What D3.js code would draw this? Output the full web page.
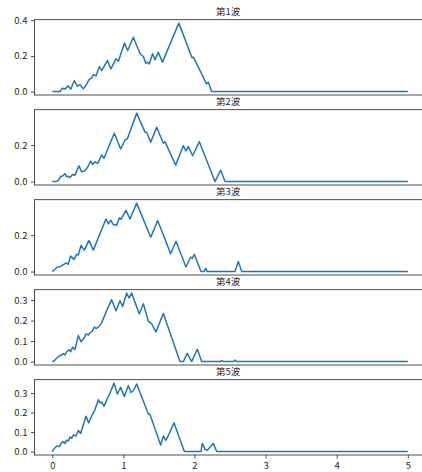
<!DOCTYPE html>
<html>
<head>
<meta charset="utf-8">
<script src="https://cdn.jsdelivr.net/npm/d3@7"></script>
<style>
body{margin:0;background:#fff;}
text{font-family:"Noto Sans CJK JP","Liberation Sans",sans-serif;fill:#262626;}
</style>
</head>
<body>
<svg id="chart"></svg>
<script>
var titles = ["第1波","第2波","第3波","第4波","第5波"];
var xTicks = [0,1,2,3,4,5];
var yTicks1 = [0,0.2,0.4];
var yTicks2 = [0,0.2];
var yTicks3 = [0,0.2];
var yTicks4 = [0,0.1,0.2,0.3];
var yTicks5 = [0,0.1,0.2,0.3];

var wave1 = [[0,0],[0.11,0],[0.14,0.019],[0.18,0.015],[0.225,0.032],[0.26,0.013],[0.31,0.062],[0.35,0.03],
  [0.39,0.039],[0.435,0.015],[0.475,0.036],[0.52,0.069],[0.555,0.077],[0.58,0.096],[0.615,0.088],[0.66,0.14],
  [0.695,0.118],[0.775,0.174],[0.825,0.127],[0.895,0.184],[0.93,0.17],[1.015,0.272],[1.06,0.23],[1.14,0.305],
  [1.235,0.212],[1.28,0.197],[1.315,0.159],[1.34,0.165],[1.365,0.155],[1.41,0.212],[1.445,0.178],[1.49,0.221],
  [1.55,0.165],[1.78,0.384],[1.965,0.19],[1.985,0.193],[2.17,0.043],[2.195,0.052],[2.24,0],[5,0]];
var wave2 = [[0,0],[0.052,0],[0.085,0.007],[0.122,0.029],[0.146,0.031],[0.179,0.044],[0.202,0.026],[0.225,0.029],
  [0.249,0.022],[0.286,0.039],[0.319,0.035],[0.376,0.086],[0.413,0.053],[0.45,0.057],[0.493,0.075],[0.54,0.112],
  [0.568,0.094],[0.601,0.108],[0.638,0.099],[0.694,0.145],[0.727,0.127],[0.872,0.264],[0.962,0.178],[1.022,0.227],
  [1.055,0.233],[1.187,0.374],[1.304,0.27],[1.327,0.27],[1.384,0.215],[1.468,0.297],[1.562,0.209],[1.585,0.218],
  [1.735,0.09],[1.843,0.196],[1.88,0.167],[1.913,0.191],[1.974,0.141],[2.068,0.218],[2.288,0],[2.368,0.062],
  [2.429,0],[5,0]];
var wave3 = [[0,0],[0.038,0.013],[0.071,0.025],[0.108,0.027],[0.146,0.036],[0.179,0.044],[0.202,0.047],[0.225,0.04],
  [0.258,0.085],[0.305,0.067],[0.343,0.095],[0.366,0.091],[0.404,0.144],[0.45,0.118],[0.516,0.171],[0.577,0.118],
  [0.755,0.289],[0.788,0.262],[0.821,0.282],[0.858,0.258],[0.905,0.255],[0.943,0.295],[0.966,0.287],[1.037,0.336],
  [1.093,0.289],[1.187,0.376],[1.384,0.189],[1.482,0.28],[1.665,0.098],[1.74,0.167],[1.88,0.025],[1.946,0.08],
  [1.97,0.073],[1.998,0.095],[2.091,0],[2.134,0],[2.157,0.018],[2.18,0],[2.57,0],[2.616,0.055],[2.664,0],[5,0]];
var wave4 = [[0,0],[0.024,0.003],[0.061,0.016],[0.099,0.027],[0.132,0.032],[0.155,0.039],[0.179,0.032],[0.202,0.048],
  [0.235,0.058],[0.258,0.048],[0.286,0.071],[0.319,0.058],[0.366,0.127],[0.404,0.097],[0.45,0.116],[0.474,0.135],
  [0.507,0.129],[0.53,0.14],[0.563,0.148],[0.591,0.169],[0.615,0.161],[0.647,0.168],[0.694,0.189],[0.774,0.256],
  [0.835,0.302],[0.896,0.248],[0.952,0.297],[0.99,0.269],[1.046,0.334],[1.079,0.31],[1.116,0.334],[1.224,0.232],
  [1.281,0.282],[1.351,0.197],[1.398,0.184],[1.458,0.145],[1.562,0.235],[1.796,0],[1.843,0],[1.899,0.04],
  [1.96,0],[2.04,0.06],[2.101,0],[2.36,0],[2.383,0.005],[2.41,0],[2.55,0],[2.57,0.007],[2.59,0],[5,0]];
var wave5 = [[0,0],[0.038,0.02],[0.071,0.029],[0.099,0.025],[0.122,0.042],[0.155,0.051],[0.179,0.042],[0.202,0.059],
  [0.225,0.054],[0.249,0.075],[0.272,0.068],[0.296,0.085],[0.333,0.08],[0.366,0.108],[0.399,0.093],[0.474,0.181],
  [0.512,0.147],[0.568,0.193],[0.601,0.215],[0.647,0.266],[0.671,0.249],[0.694,0.254],[0.727,0.232],[0.788,0.283],
  [0.812,0.3],[0.868,0.351],[0.915,0.295],[0.962,0.33],[1.013,0.283],[1.069,0.339],[1.107,0.303],[1.14,0.312],
  [1.187,0.346],[1.351,0.193],[1.374,0.19],[1.524,0.034],[1.562,0.08],[1.595,0.058],[1.623,0.075],[1.712,0.147],
  [1.857,0],[2.091,0],[2.11,0.042],[2.148,0.012],[2.18,0.007],[2.265,0.042],[2.312,0],[5,0]];

var waves = [wave1,wave2,wave3,wave4,wave5];
var yTickSets = [yTicks1,yTicks2,yTicks3,yTicks4,yTicks5];

var width = 422, height = 472;
var left = 34.5, right = 425.6;
var top0 = 19.7, step = 90, panelH = 75.3;

var svg = d3.select("#chart")
  .attr("width", width)
  .attr("height", height);

var xScale = d3.scaleLinear()
  .domain([-0.25, 5.25])
  .range([left, right]);

var fmt = d3.format(".1f");

waves.forEach(function(wave, i) {
  var top = top0 + step * i;
  var maxY = d3.max(wave, function(d){ return d[1]; });
  var minY = d3.min(wave, function(d){ return d[1]; });
  var pad = (maxY - minY) * 0.05;
  var yScale = d3.scaleLinear()
    .domain([minY - pad, maxY + pad])
    .range([top + panelH, top]);

  var g = svg.append("g");

  g.append("path")
    .datum(wave)
    .attr("fill", "none")
    .attr("stroke", "#1f77b4")
    .attr("stroke-width", 1.5)
    .attr("stroke-linejoin", "round")
    .attr("d", d3.line()
      .x(function(d){ return xScale(d[0]); })
      .y(function(d){ return yScale(d[1]); }));

  // frame
  g.append("rect")
    .attr("x", left)
    .attr("y", top)
    .attr("width", right - left)
    .attr("height", panelH)
    .attr("fill", "none")
    .attr("stroke", "#222")
    .attr("stroke-width", 0.8);

  var yAxis = d3.axisLeft(yScale)
    .tickValues(yTickSets[i])
    .tickFormat(fmt)
    .tickSize(3.5)
    .tickPadding(3.5);
  var ya = g.append("g")
    .attr("transform", "translate(" + left + ",0)")
    .call(yAxis);
  ya.select(".domain").remove();
  ya.selectAll("line").attr("stroke", "#222").attr("stroke-width", 0.8);
  ya.selectAll("text").style("font-size", "9.5px").attr("fill", "#262626");

  g.append("text")
    .attr("x", (left + right) / 2 - 2)
    .attr("y", top - 4.5)
    .attr("text-anchor", "middle")
    .style("font-size", "9.5px")
    .text(titles[i]);

  if (i == waves.length - 1) {
    var xAxis = d3.axisBottom(xScale)
      .tickValues(xTicks)
      .tickFormat(d3.format("d"))
      .tickSize(3.5)
      .tickPadding(3.5);
    var xa = g.append("g")
      .attr("transform", "translate(0," + (top + panelH) + ")")
      .call(xAxis);
    xa.select(".domain").remove();
    xa.selectAll("line").attr("stroke", "#222").attr("stroke-width", 0.8);
    xa.selectAll("text").style("font-size", "9.5px").attr("fill", "#262626");
  }
});
</script>
</body>
</html>
